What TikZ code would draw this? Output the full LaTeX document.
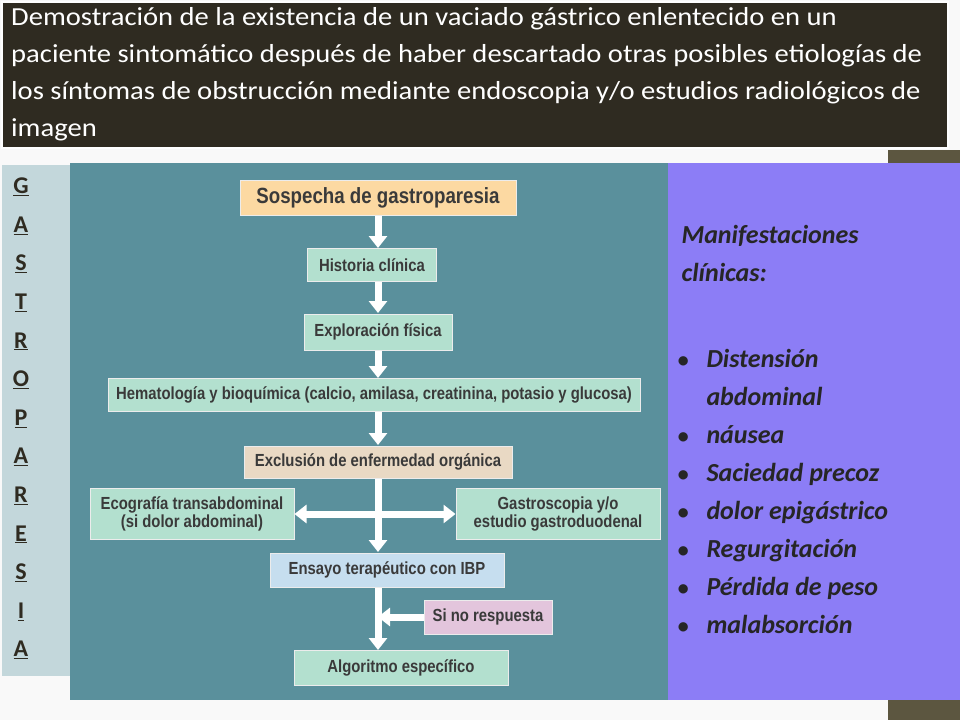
\documentclass[tikz,border=0pt]{standalone}
\usepackage{fontspec}
\setmainfont{Carlito}
\newfontfamily\narrowfont[FakeStretch=0.85]{Liberation Sans}
\newfontfamily\titlefont[FakeStretch=1.1]{Carlito}
\usetikzlibrary{positioning, arrows.meta}
\definecolor{titlebg}{HTML}{2F2B21}
\definecolor{strip}{HTML}{5C5640}
\definecolor{sidebg}{HTML}{C3D7DB}
\definecolor{teal}{HTML}{5A909C}
\definecolor{violet}{HTML}{8C7DF6}
\definecolor{peach}{HTML}{FCD9A2}
\definecolor{mint}{HTML}{B3E0CF}
\definecolor{sand}{HTML}{E9D9C4}
\definecolor{sky}{HTML}{C6DEEF}
\definecolor{pink}{HTML}{E3C5DC}
\definecolor{ink}{HTML}{3A3A3A}

\begin{document}
\begin{tikzpicture}[x=1pt, y=-1pt, font=\bfseries\color{ink},
    stepbox/.style = {draw=white!85!gray, line width=1pt, inner sep=0pt, align=center, font=\narrowfont\bfseries\fontsize{17.5}{18}\selectfont\color{ink}},
    fat/.style = {white, line width=7pt, -{Triangle[length=12pt, width=18pt]}}]
    \useasboundingbox (0,0) rectangle (960,720);

    % background panels
    \fill[white!95!gray] (0,0) rectangle (960,720);
    \fill[strip] (888,150) rectangle (960,720);
    \fill[sidebg] (2,165) rectangle (70,676);
    \fill[teal] (70,163) rectangle (668,700);
    \fill[violet] (668,163) rectangle (960,700);
    \node[draw=white, line width=1.5pt, fill=titlebg, minimum width=946pt, minimum height=146pt,
        anchor=north west, inner sep=0pt] (title) at (1,1) {};
    \node[anchor=north west, align=left, inner sep=0pt,
        font=\titlefont\fontsize{26}{37}\selectfont\color{white}]
        (titletext) at (11,7) {Demostración de la existencia de un vaciado gástrico enlentecido en un\\
        paciente sintomático después de haber descartado otras posibles etiologías de\\
        los síntomas de obstrucción mediante endoscopia y/o estudios radiológicos de\\
        imagen};

    % vertical word
    \foreach \c [count=\i from 0] in {G,A,S,T,R,O,P,A,R,E,S,I,A}
        \node[font=\bfseries\fontsize{24}{24}\selectfont\color{titlebg}] (w\i) at (21,187+38.6*\i) {\underline{\c}};

    % flowchart boxes
    \node[stepbox, fill=peach, minimum width=276pt, minimum height=35pt, font=\narrowfont\bfseries\fontsize{22}{22}\selectfont\color{ink}] (sos) at (378,198) {Sospecha de gastroparesia};
    \node[stepbox, fill=mint, minimum width=129pt, minimum height=33pt] (his) at (372,265) {Historia clínica};
    \node[stepbox, fill=mint, minimum width=148pt, minimum height=36pt] (exp) at (378,332) {Exploración física};
    \node[stepbox, fill=mint, minimum width=532pt, minimum height=33pt] (hem) at (374,395) {Hematología y bioquímica (calcio, amilasa, creatinina, potasio y glucosa)};
    \node[stepbox, fill=sand, minimum width=268pt, minimum height=32pt] (exc) at (378,462) {Exclusión de enfermedad orgánica};
    \node[stepbox, fill=mint, minimum width=204pt, minimum height=51pt] (eco) at (192,514) {Ecografía transabdominal\\(si dolor abdominal)};
    \node[stepbox, fill=mint, minimum width=204pt, minimum height=51pt] (gas) at (558,514) {Gastroscopia y/o\\estudio gastroduodenal};
    \node[stepbox, fill=sky, minimum width=234pt, minimum height=34pt] (ens) at (387,570) {Ensayo terapéutico con IBP};
    \node[stepbox, fill=pink, minimum width=128pt, minimum height=34pt] (sin) at (488,617) {Si no respuesta};
    \node[stepbox, fill=mint, minimum width=214pt, minimum height=35pt] (alg) at (401,668) {Algoritmo específico};
    \coordinate (hub) at (378,514);
    \coordinate (join) at (378,617);

    % arrows
    \draw[fat] (sos.south -| 378,0) -- (378,248);
    \draw[fat] (his.south -| 378,0) -- (378,313);
    \draw[fat] (exp.south -| 378,0) -- (378,378);
    \draw[fat] (hem.south -| 378,0) -- (378,445);
    \draw[fat] (exc.south -| 378,0) -- (378,552);
    \draw[fat] (hub) -- (eco.east);
    \draw[fat] (hub) -- (gas.west);
    \draw[fat] (ens.south -| 378,0) -- (378,650);
    \draw[fat] (sin.west) -- (join);

    % clinical signs
    \node[anchor=north west, align=left, font=\bfseries\itshape\fontsize{26}{38}\selectfont\color{black!85}] (man) at (678,222)
        {Manifestaciones\\clínicas:};
    \node[anchor=north west, font=\bfseries\itshape\fontsize{26}{38}\selectfont\color{black!85}] (sig) at (674,337) {%
        \begin{tabular}{@{}l@{\hspace{18pt}}l@{}}
        {\fontsize{22}{22}\selectfont\textbullet} & Distensión\\
                    & abdominal\\
        {\fontsize{22}{22}\selectfont\textbullet} & náusea\\
        {\fontsize{22}{22}\selectfont\textbullet} & Saciedad precoz\\
        {\fontsize{22}{22}\selectfont\textbullet} & dolor epigástrico\\
        {\fontsize{22}{22}\selectfont\textbullet} & Regurgitación\\
        {\fontsize{22}{22}\selectfont\textbullet} & Pérdida de peso\\
        {\fontsize{22}{22}\selectfont\textbullet} & malabsorción
        \end{tabular}};
\end{tikzpicture}
\end{document}
